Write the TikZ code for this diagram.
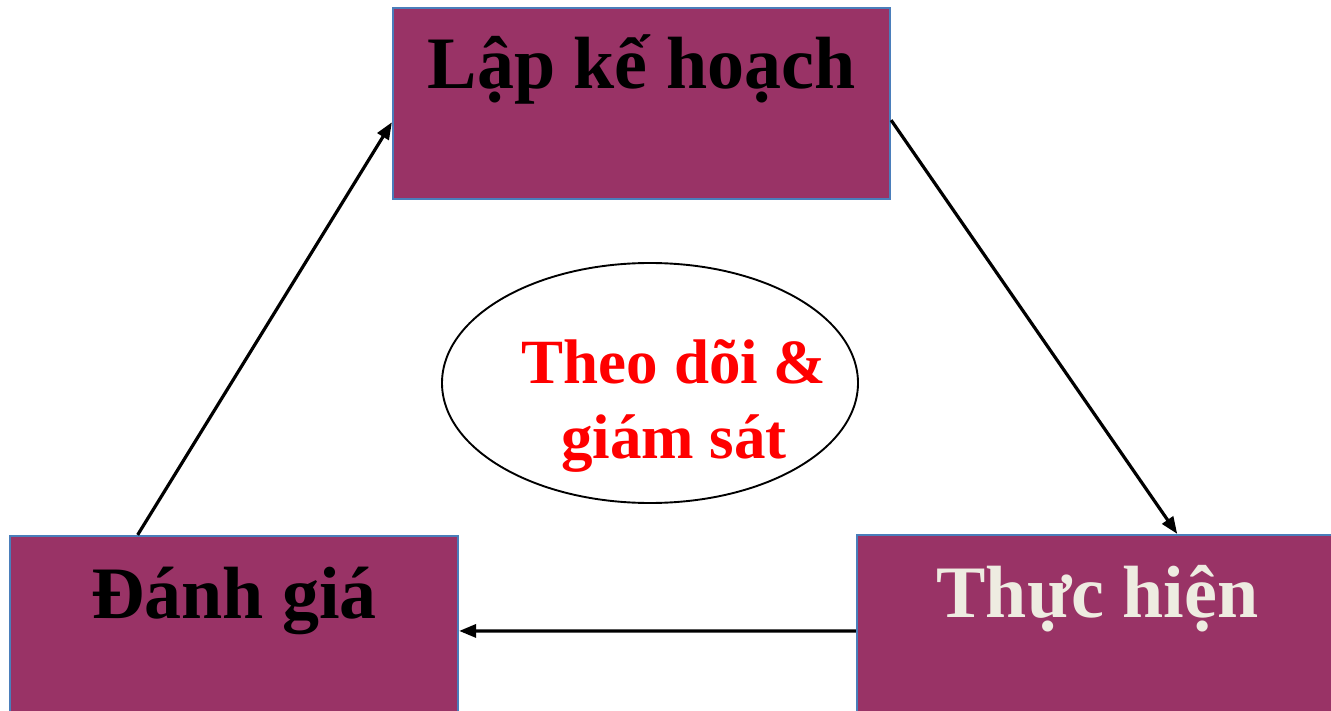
\documentclass[tikz,border=0pt]{standalone}
\usepackage{fontspec}
\setmainfont{Liberation Serif}
\usetikzlibrary{arrows.meta,calc,shapes.geometric}
\definecolor{boxfill}{HTML}{993366}
\definecolor{boxline}{HTML}{4A7EBB}
\definecolor{lighttext}{HTML}{EEECE1}
\tikzset{
  stagebox/.style={draw=boxline, line width=2.2pt, fill=boxfill, rectangle, inner sep=0pt},
  stagelabel/.style={anchor=base, inner sep=0pt, font=\fontsize{74}{80}\selectfont\bfseries},
  flow/.style={line width=3.2pt, -{Triangle[length=17pt,width=13pt]}},
}
\begin{document}
\begin{tikzpicture}[x=1pt,y=-1pt]
\clip (0,0) rectangle (1331,711);
\fill[white] (0,0) rectangle (1331,711);
% boxes
\node[stagebox, minimum width=497pt, minimum height=191pt] (plan) at (641.5,103.5) {};
\node[stagebox, minimum width=448pt, minimum height=200pt] (eval) at (234,636) {};
\node[stagebox, minimum width=481pt, minimum height=201pt] (exec) at (1097.5,635.5) {};
% labels
\node[stagelabel] (planlbl) at (641.5,89) {Lập kế hoạch};
\node[stagelabel] (evallbl) at (234,618) {Đánh giá};
\node[stagelabel, text=lighttext] (execlbl) at (1097.5,617) {Thực hiện};
% ellipse
\node[draw=black, line width=1.9pt, ellipse, minimum width=416pt, minimum height=240pt, inner sep=0pt] (mon) at (650,383) {};
\node[anchor=base, align=center, inner sep=0pt, text=red, font=\fontsize{63}{75}\selectfont\bfseries] (monlbl) at (674,458) {Theo dõi \&\\giám sát};
% connectors
\draw[flow] ($(plan.north east)!0.586!(plan.south east)$) -- ($(exec.north west)!0.665!(exec.north east)$);
\draw[flow] ($(exec.north west)!0.478!(exec.south west)$) -- ($(eval.north east)!0.475!(eval.south east)$);
\draw[flow] ($(eval.north west)!0.286!(eval.north east)$) -- ($(plan.north west)!0.597!(plan.south west)$);
\end{tikzpicture}
\end{document}
